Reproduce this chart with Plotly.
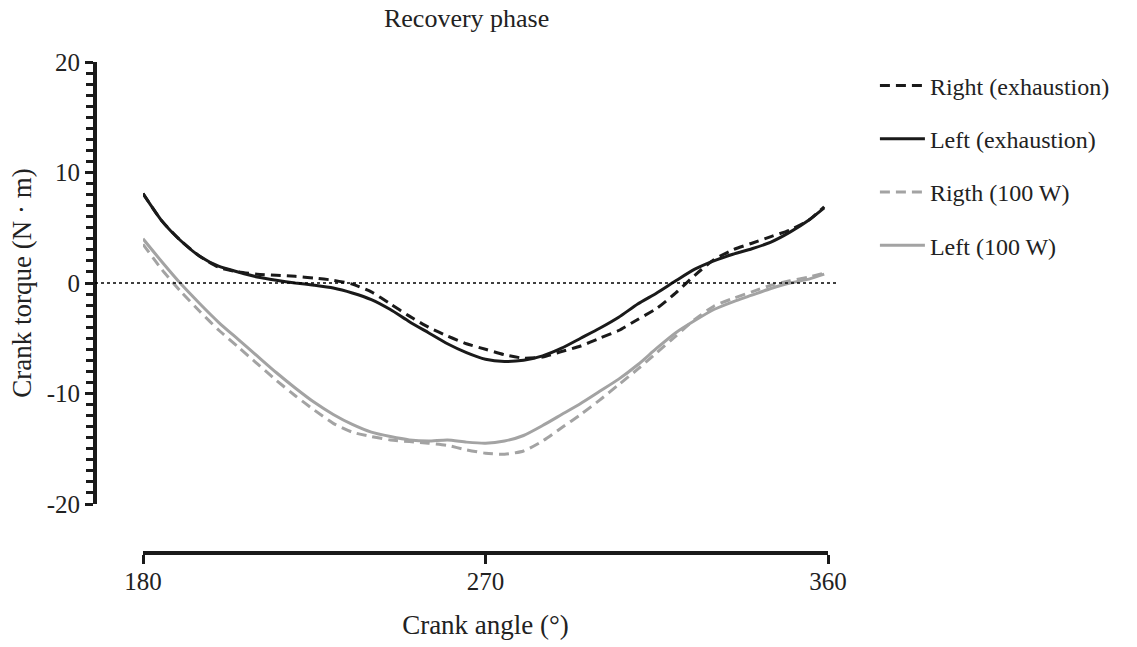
import plotly.graph_objects as go

angle = [180, 185, 190, 195, 200, 205, 210, 215, 220, 225, 230, 235, 240, 245, 250,
         255, 260, 265, 270, 275, 280, 285, 290, 295, 300, 305, 310, 315, 320, 325,
         330, 335, 340, 345, 350, 355, 359]

right_exh = [8.1, 5.6, 3.8, 2.4, 1.4, 1.0, 0.8, 0.7, 0.6, 0.45, 0.25, -0.1, -0.8, -1.9, -3.0,
             -4.0, -4.8, -5.5, -6.0, -6.5, -6.8, -6.7, -6.2, -5.7, -5.0, -4.3, -3.3, -2.3, -0.9, 0.7,
             2.1, 3.0, 3.6, 4.2, 4.8, 5.7, 6.9]

left_exh = [8.1, 5.6, 3.8, 2.4, 1.5, 1.0, 0.55, 0.25, 0.0, -0.2, -0.45, -0.9, -1.5, -2.4, -3.5,
            -4.5, -5.5, -6.3, -6.9, -7.1, -7.0, -6.6, -5.9, -5.0, -4.1, -3.1, -1.9, -0.9, 0.2, 1.25,
            2.0, 2.6, 3.1, 3.7, 4.6, 5.7, 6.8]

right_100 = [3.5, 1.2, -0.8, -2.6, -4.3, -5.8, -7.3, -8.8, -10.2, -11.5, -12.7, -13.5, -13.9, -14.2, -14.35,
             -14.5, -14.7, -15.1, -15.4, -15.5, -15.2, -14.3, -13.1, -11.9, -10.6, -9.2, -7.8, -6.3, -4.8, -3.3,
             -2.1, -1.4, -0.8, -0.2, 0.2, 0.55, 0.9]

left_100 = [4.0, 1.9, -0.1, -1.9, -3.6, -5.1, -6.6, -8.1, -9.5, -10.8, -11.9, -12.8, -13.5, -13.9, -14.2,
            -14.3, -14.2, -14.4, -14.5, -14.3, -13.8, -12.9, -11.9, -10.9, -9.8, -8.7, -7.4, -5.9, -4.5, -3.4,
            -2.4, -1.7, -1.1, -0.5, 0.0, 0.35, 0.8]

x_ticks = [180, 270, 360]
y_ticks = [-20, -10, 0, 10, 20]

FONT = "Liberation Serif"
BLACK = "#1a1a1a"
GRAY = "#a3a3a3"
TXT = "#222222"

fig = go.Figure()
series = [
    ("Right (exhaustion)", right_exh, BLACK, "10px,6px"),
    ("Left (exhaustion)", left_exh, BLACK, "solid"),
    ("Rigth (100 W)", right_100, GRAY, "10px,6px"),
    ("Left (100 W)", left_100, GRAY, "solid"),
]
for i, (name, vals, col, dash) in enumerate(series):
    fig.add_trace(go.Scatter(
        x=angle, y=vals, mode="lines", name=name, legendgroup=f"g{i}",
        line=dict(color=col, width=3, dash=dash, shape="spline", smoothing=0.6),
    ))

fig.add_shape(type="line", xref="paper", yref="y", x0=0, x1=1.0136, y0=0, y1=0,
              line=dict(color="black", width=1.5, dash="dot"))

fig.update_layout(
    width=1137, height=647,
    margin=dict(l=95, r=309, t=62, b=94, autoexpand=False),
    paper_bgcolor="white", plot_bgcolor="white",
    font=dict(family=FONT, size=24, color=TXT),
    title=dict(text="Recovery phase", x=0.507, xref="paper", xanchor="center",
               y=1 - 18 / 647, yref="container", yanchor="middle",
               font=dict(family=FONT, size=26, color=TXT)),
    showlegend=True,
    legend=dict(x=1.064, y=0.997, xanchor="left", yanchor="top",
                font=dict(family=FONT, size=24, color=TXT),
                itemwidth=45,
                tracegroupgap=19, bgcolor="rgba(0,0,0,0)"),
    xaxis=dict(range=[180, 360], domain=[0.0655, 1], anchor="free", position=0,
               automargin=False,
               tickvals=x_ticks, ticktext=[str(v) for v in x_ticks],
               showline=True, linewidth=4, linecolor=BLACK,
               ticks="outside", ticklen=9, tickwidth=3, tickcolor=BLACK,
               ticklabelstandoff=-4,
               showgrid=False, zeroline=False,
               tickfont=dict(family=FONT, size=25, color=TXT),
               title=dict(text="Crank angle (°)", standoff=20,
                          font=dict(family=FONT, size=27, color=TXT))),
    yaxis=dict(range=[-20, 20], domain=[0.0998, 1], anchor="free", position=0,
               automargin=False,
               tickvals=y_ticks, ticktext=[str(v) for v in y_ticks],
               showline=True, linewidth=4, linecolor=BLACK,
               ticks="outside", ticklen=8, tickwidth=3, tickcolor=BLACK,
               minor=dict(dtick=1, ticks="outside", ticklen=7, tickwidth=2.5, tickcolor=BLACK, showgrid=False),
               showgrid=False, zeroline=False,
               tickfont=dict(family=FONT, size=25, color=TXT),
               title=dict(text="Crank torque (N · m)", standoff=6,
                          font=dict(family=FONT, size=27, color=TXT))),
)

fig.write_html("out.html")
